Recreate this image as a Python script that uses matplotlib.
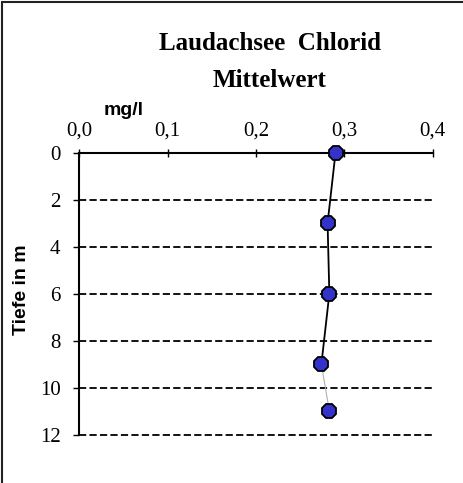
import matplotlib.pyplot as plt
from matplotlib.patches import Rectangle

# Laudachsee Chlorid Mittelwert
tiefe = [0, 3, 6, 9, 11]
chlorid = [0.290, 0.281, 0.283, 0.274, 0.283]

x_ticks = [0.0, 0.1, 0.2, 0.3, 0.4]
x_labels = ['0,0', '0,1', '0,2', '0,3', '0,4']
y_ticks = [0, 2, 4, 6, 8, 10, 12]

serif = 'Liberation Serif'
sans = 'Liberation Sans'

fig = plt.figure(figsize=(4.63, 4.83), dpi=100)
ax = fig.add_axes([0.1713, 0.1000, 0.7633, 0.5839])

# rahmen (nur links und oben sichtbar)
fig.patches.append(Rectangle((0.005, -0.2), 1.2, 1.196, transform=fig.transFigure,
                             fill=False, edgecolor='#222222', linewidth=1.5))

ax.hlines(y_ticks[1:], 0, 0.4, colors='black', linestyles=(0, (4, 1.8)),
          linewidth=1.3, zorder=1, clip_on=False)

ax.plot(chlorid[:4], tiefe[:4], color='black', linewidth=1.3, zorder=2, clip_on=False)
ax.plot(chlorid[3:], tiefe[3:], color='#b0b0b0', linewidth=0.8, zorder=2)
ax.plot(chlorid, tiefe, linestyle='none', marker='8', markersize=10.5,
        markerfacecolor='#3333cc', markeredgecolor='black', markeredgewidth=1.3,
        zorder=3, clip_on=False)

ax.set_xlim(0, 0.4)
ax.set_ylim(12, 0)
ax.xaxis.tick_top()
ax.set_xticks(x_ticks)
ax.set_xticklabels(x_labels, fontfamily=serif, fontsize=15)
ax.set_yticks(y_ticks)
ax.set_yticklabels([str(v) for v in y_ticks], fontfamily=serif, fontsize=15)
ax.tick_params(axis='x', direction='inout', length=6, width=1, pad=6)
ax.tick_params(axis='y', direction='out', length=4, width=1, pad=9.5)

ax.spines['right'].set_visible(False)
ax.spines['bottom'].set_visible(False)
ax.spines['top'].set_linewidth(1.5)
ax.spines['left'].set_linewidth(1.5)

fig.text(0.583, 0.909, 'Laudachsee  Chlorid', ha='center', va='center',
         fontfamily=serif, fontweight='bold', fontsize=18)
fig.text(0.583, 0.834, 'Mittelwert', ha='center', va='center',
         fontfamily=serif, fontweight='bold', fontsize=18)
fig.text(0.266, 0.772, 'mg/l', ha='center', va='center',
         fontfamily=sans, fontweight='bold', fontsize=14)
fig.text(0.047, 0.40, 'Tiefe in m', ha='center', va='center', rotation=90,
         fontfamily=sans, fontweight='bold', fontsize=14)

fig.savefig('out.png', dpi=100)
